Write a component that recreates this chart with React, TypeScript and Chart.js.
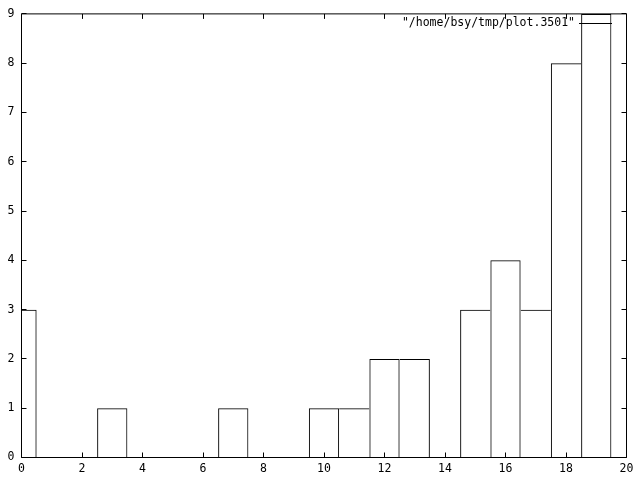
import React, { useEffect, useRef } from "react";
import { Chart, registerables } from "chart.js";

Chart.register(...registerables);

const binCenters = [0, 1, 2, 3, 4, 5, 6, 7, 8, 9, 10, 11, 12, 13, 14, 15, 16, 17, 18, 19];
const counts = [3, 0, 0, 1, 0, 0, 0, 1, 0, 0, 1, 1, 2, 2, 0, 3, 4, 3, 8, 9];
const xTickValues = [0, 2, 4, 6, 8, 10, 12, 14, 16, 18, 20];
const yTickValues = [0, 1, 2, 3, 4, 5, 6, 7, 8, 9];
const seriesLabel = '"/home/bsy/tmp/plot.3501"';

const FONT = "'DejaVu Sans Mono', 'Liberation Mono', monospace";

const framePlugin = {
  id: "gnuFrame",
  afterDatasetsDraw(chart: any) {
    const { ctx, chartArea: a, scales } = chart;
    const xs = scales.x;
    const ys = scales.y;
    ctx.save();
    ctx.strokeStyle = "#000";
    ctx.lineWidth = 1;
    ctx.beginPath();
    ctx.rect(a.left, a.top, a.right - a.left, a.bottom - a.top);
    ctx.stroke();
    const tl = 5;
    ctx.beginPath();
    for (const v of xTickValues) {
      const p = Math.floor(xs.getPixelForValue(v)) + 0.5;
      ctx.moveTo(p, a.bottom);
      ctx.lineTo(p, a.bottom - tl);
      ctx.moveTo(p, a.top);
      ctx.lineTo(p, a.top + tl);
    }
    for (const v of yTickValues) {
      const p = Math.floor(ys.getPixelForValue(v)) + 0.5;
      ctx.moveTo(a.left, p);
      ctx.lineTo(a.left + tl, p);
      ctx.moveTo(a.right, p);
      ctx.lineTo(a.right - tl, p);
    }
    ctx.stroke();
    // key
    ctx.font = `11.5px ${FONT}`;
    ctx.fillStyle = "#000";
    ctx.textAlign = "right";
    ctx.textBaseline = "middle";
    ctx.fillText(seriesLabel, 575, 23.5);
    ctx.beginPath();
    ctx.moveTo(579, 23.5);
    ctx.lineTo(612, 23.5);
    ctx.stroke();
    ctx.restore();
  },
};

export default function App() {
  const ref = useRef<HTMLCanvasElement | null>(null);
  useEffect(() => {
    if (!ref.current) return;
    const chart = new Chart(ref.current, {
      type: "bar",
      data: {
        datasets: [
          {
            label: seriesLabel,
            data: binCenters.map((x, i) => ({ x, y: counts[i] })),
            backgroundColor: "rgba(0,0,0,0)",
            borderColor: "#000",
            borderWidth: (c: any) => {
              const i = c.dataIndex;
              if (i === undefined) return 1;
              const h = counts[i];
              const prev = i > 0 ? counts[i - 1] : -1;
              const next = i < counts.length - 1 ? counts[i + 1] : -1;
              return { top: 1, bottom: 0, left: prev < h ? 1 : 0, right: next <= h ? 1 : 0 };
            },
            borderSkipped: false,
            barPercentage: 1,
            categoryPercentage: 1,
            inflateAmount: 0,
            clip: 0,
          } as any,
        ],
      },
      options: {
        animation: false,
        responsive: false,
        events: [],
        layout: { padding: { left: 0, top: 13.5, right: 13.5, bottom: 0 } },
        plugins: { legend: { display: false }, tooltip: { enabled: false }, title: { display: false } },
        scales: {
          x: {
            type: "linear",
            min: 0,
            max: 20,
            offset: false,
            afterFit: (s: any) => {
              s.height = 22.5;
            },
            grid: { display: false, drawTicks: false, offset: false },
            border: { display: false },
            ticks: {
              stepSize: 2,
              autoSkip: false,
              maxRotation: 0,
              padding: 5,
              color: "#000",
              font: { family: FONT, size: 11.5 },
            },
          },
          y: {
            type: "linear",
            min: 0,
            max: 9,
            afterFit: (s: any) => {
              s.width = 21.5;
            },
            grid: { display: false, drawTicks: false },
            border: { display: false },
            ticks: {
              stepSize: 1,
              autoSkip: false,
              padding: 7,
              color: "#000",
              font: { family: FONT, size: 11.5 },
            },
          },
        },
      } as any,
      plugins: [framePlugin],
    });
    return () => chart.destroy();
  }, []);
  return (
    <div style={{ position: "fixed", left: 0, top: 0, width: 640, height: 480, background: "#fff" }}>
      <canvas ref={ref} width={640} height={480} style={{ width: 640, height: 480, display: "block" }} />
    </div>
  );
}
